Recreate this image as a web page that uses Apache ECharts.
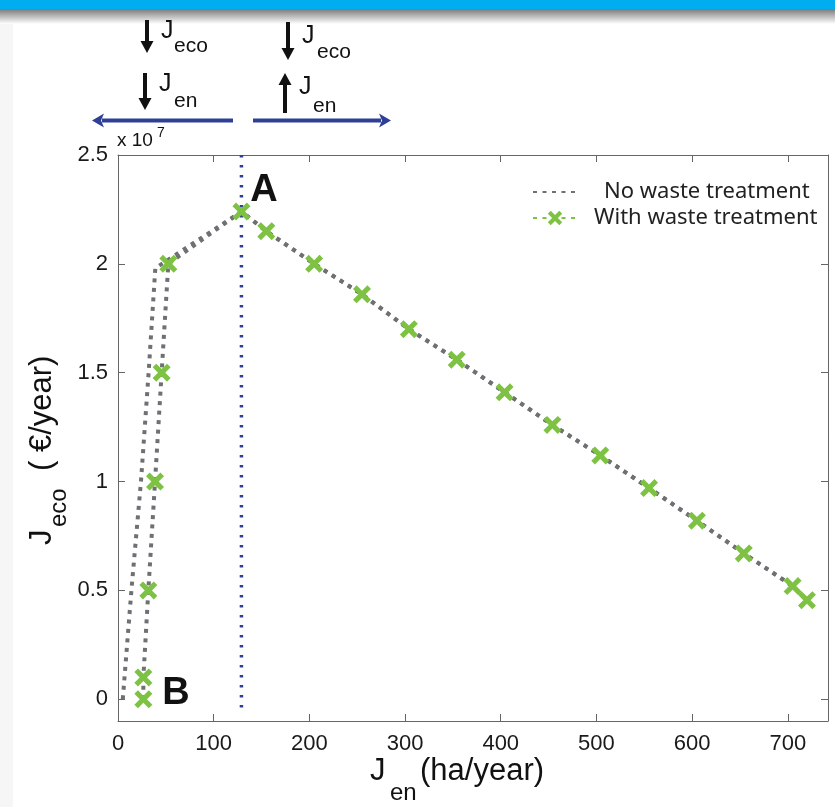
<!DOCTYPE html>
<html>
<head>
<meta charset="utf-8">
<script src="https://cdn.jsdelivr.net/npm/echarts@6/dist/echarts.min.js"></script>
<style>
  html, body { margin: 0; padding: 0; background: #fff; }
  #chart { width: 835px; height: 807px; }
</style>
</head>
<body>
<div id="chart"></div>
<script>
// values (x in ha/year, y in 1e7 €/year)
const noWasteX = [5, 14, 24, 32, 39, 129, 155, 205, 255, 304, 354, 404, 454, 504, 555, 605, 654, 705, 720];
const noWasteY = [0, 0.5, 1.0, 1.5, 1.98, 2.24, 2.15, 2.0, 1.86, 1.70, 1.56, 1.41, 1.26, 1.12, 0.97, 0.82, 0.67, 0.52, 0.455];
const wasteX = [26.5, 26.5, 31.7, 38.7, 45.6, 52.6, 129, 155, 205, 255, 304, 354, 404, 454, 504, 555, 605, 654, 705, 720];
const wasteY = [0, 0.1, 0.5, 1.0, 1.5, 2.0, 2.24, 2.15, 2.0, 1.86, 1.70, 1.56, 1.41, 1.26, 1.12, 0.97, 0.82, 0.67, 0.52, 0.455];
const peakX = 129;
const xTicks = [0, 100, 200, 300, 400, 500, 600, 700];
const yTicks = [0, 0.5, 1, 1.5, 2, 2.5];

const seriesNames = ['No waste treatment', 'With waste treatment'];

const zip = (xs, ys) => xs.map((x, i) => [x, ys[i]]);

const GRAY = '#6f7074';
const GREEN = '#7dc242';
const BLUE = '#2e3f95';
const AX = '#666';
const FONT = '"Liberation Sans", Arial, sans-serif';
const LEGEND_FONT = '"Noto Sans", sans-serif';

const crossPath = 'path://M0,4 L4,0 L10,6 L16,0 L20,4 L14,10 L20,16 L16,20 L10,14 L4,20 L0,16 L6,10 Z';

function txt(x, y, s, size, opts) {
  return {
    type: 'text', x: x, y: y,
    style: Object.assign({
      text: s, font: size + 'px ' + FONT, fill: '#111',
      textAlign: 'left', textVerticalAlign: 'middle'
    }, opts || {})
  };
}

function blackArrow(x, y1, y2) {
  // y1 tail, y2 tip
  const dir = y2 > y1 ? 1 : -1;
  const hl = 12;
  return {
    type: 'group',
    children: [
      { type: 'rect', shape: { x: x - 2, y: Math.min(y1, y2 - dir * hl), width: 4, height: Math.abs(y2 - dir * hl - y1) + 1 }, style: { fill: '#111' } },
      { type: 'polygon', shape: { points: [[x - 6.5, y2 - dir * hl], [x + 6.5, y2 - dir * hl], [x, y2]] }, style: { fill: '#111' } }
    ]
  };
}

function blueArrow(x1, x2, y) {
  const dir = x2 > x1 ? 1 : -1;
  const hl = 12;
  return {
    type: 'group',
    children: [
      { type: 'line', shape: { x1: x1, y1: y, x2: x2 - dir * (hl - 2), y2: y }, style: { stroke: BLUE, lineWidth: 4 } },
      { type: 'polygon', shape: { points: [[x2, y], [x2 - dir * hl, y - 7], [x2 - dir * (hl - 3), y], [x2 - dir * hl, y + 7]] }, style: { fill: BLUE } }
    ]
  };
}

function axisCommon(show) {
  return {
    axisLine: { show: true, onZero: false, lineStyle: { color: AX, width: 1 } },
    axisTick: { show: true, inside: true, length: 7, lineStyle: { color: AX } },
    axisLabel: { show: show, color: '#1a1a1a', fontSize: 22, fontFamily: FONT },
    splitLine: { show: false }
  };
}

const xBottom = axisCommon(true);
xBottom.axisTick.customValues = xTicks;
xBottom.axisLabel.customValues = xTicks;
xBottom.axisLabel.margin = 12;
const xTop = axisCommon(false);
xTop.axisTick.customValues = xTicks;
const yLeft = axisCommon(true);
yLeft.axisTick.customValues = yTicks;
yLeft.axisLabel.customValues = yTicks;
yLeft.axisLabel.margin = 10;
const yRight = axisCommon(false);
yRight.axisTick.customValues = yTicks;

const chart = echarts.init(document.getElementById('chart'));

const option = {
  backgroundColor: '#fff',
  animation: false,
  grid: { left: 118, top: 155, right: 7, bottom: 86, containLabel: false },
  legend: [
    {
      data: [{ name: seriesNames[0], itemStyle: { opacity: 0 } }],
      left: 527, top: 176, itemWidth: 44, itemHeight: 18, itemGap: 0,
      textStyle: { fontSize: 22, fontFamily: LEGEND_FONT, color: '#222', padding: [0, 0, 0, 22] }
    },
    {
      data: [{ name: seriesNames[1], lineStyle: { color: GREEN }, itemStyle: { color: GREEN } }],
      left: 527, top: 202, itemWidth: 44, itemHeight: 18, itemGap: 0,
      textStyle: { fontSize: 22, fontFamily: LEGEND_FONT, color: '#222', padding: [0, 0, 0, 12] }
    }
  ],
  xAxis: [
    Object.assign({ type: 'value', min: 0, max: 742, position: 'bottom' }, xBottom),
    Object.assign({ type: 'value', min: 0, max: 742, position: 'top' }, xTop)
  ],
  yAxis: [
    Object.assign({ type: 'value', min: -0.1, max: 2.5, position: 'left' }, yLeft),
    Object.assign({ type: 'value', min: -0.1, max: 2.5, position: 'right' }, yRight)
  ],
  series: [
    {
      name: 'divider',
      type: 'line',
      data: [[peakX, 2.5], [peakX, -0.06]],
      symbol: 'none',
      lineStyle: { color: BLUE, width: 3.5, type: [2.5, 7.5] },
      silent: true,
      z: 1
    },
    {
      name: seriesNames[0],
      type: 'line',
      data: zip(noWasteX, noWasteY),
      symbol: 'none',
      lineStyle: { color: GRAY, width: 4, type: [4, 5.5] },
      itemStyle: { color: GRAY },
      z: 2
    },
    {
      name: seriesNames[1],
      type: 'line',
      data: zip(wasteX, wasteY),
      symbol: crossPath,
      symbolSize: 18,
      showSymbol: true,
      lineStyle: { color: GRAY, width: 4, type: [4, 5.5] },
      itemStyle: { color: GREEN },
      z: 3
    }
  ],
  graphic: [
    // slide header
    { type: 'rect', shape: { x: 0, y: 0, width: 835, height: 9 }, style: { fill: '#00aeef' } },
    {
      type: 'rect', shape: { x: 0, y: 9, width: 835, height: 15 },
      style: { fill: new echarts.graphic.LinearGradient(0, 0, 0, 1, [
        { offset: 0, color: '#7a7a7a' }, { offset: 1, color: '#ffffff' }
      ]) }
    },
    { type: 'rect', shape: { x: 0, y: 24, width: 13, height: 783 }, style: { fill: '#f6f6f6' }, z: -10 },

    // direction indicators
    blackArrow(147, 20, 53),
    txt(161, 31, 'J', 25),
    txt(174, 46, 'eco', 21),
    blackArrow(145, 73, 110),
    txt(159, 84, 'J', 25),
    txt(174, 101, 'en', 21),
    blackArrow(288, 22, 60),
    txt(302, 36, 'J', 25),
    txt(317, 52, 'eco', 21),
    blackArrow(285, 112, 73),
    txt(299, 87, 'J', 25),
    txt(313, 106, 'en', 21),
    blueArrow(233, 92, 120.5),
    blueArrow(253, 391, 120.5),

    // exponent
    txt(117, 141, 'x 10', 19),
    txt(157, 133, '7', 14),

    // point labels
    txt(264, 191, 'A', 38, { font: 'bold 38px ' + FONT, textAlign: 'center' }),
    txt(176, 694, 'B', 38, { font: 'bold 38px ' + FONT, textAlign: 'center' }),

    // x axis name
    txt(370, 771, 'J', 31),
    txt(390, 793, 'en', 24),
    txt(420, 771, '(ha/year)', 31),

    // y axis name (rotated)
    {
      type: 'group', x: 42, y: 545, rotation: Math.PI / 2,
      children: [
        txt(0, 0, 'J', 31),
        txt(18, 17, 'eco', 24),
        txt(74, 0, '( €/year)', 31)
      ]
    }
  ]
};

chart.setOption(option);
</script>
</body>
</html>
